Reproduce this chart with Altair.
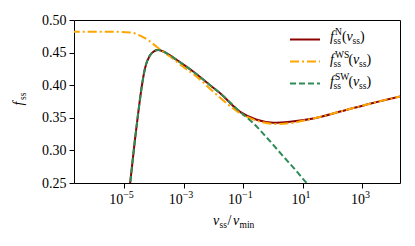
import altair as alt
import pandas as pd

# ---------------- data ----------------
log_v_N = [-4.90, -4.80, -4.64, -4.53, -4.41, -4.30, -4.13, -4.00, -3.86, -3.70, -3.57,
           -3.24, -2.68, -2.11, -1.78, -1.10, -0.54, 0.02, 0.58, 1.36, 2.30, 3.30, 4.30]
f_N = [0.211, 0.250, 0.316, 0.357, 0.398, 0.426, 0.446, 0.452, 0.454, 0.452, 0.449,
       0.439, 0.421, 0.400, 0.388, 0.359, 0.347, 0.3425, 0.344, 0.349, 0.360, 0.372, 0.383]

log_v_WS = [-6.80, -5.50, -4.80, -4.47, -4.13, -3.91, -3.46, -3.01, -2.56, -2.17, -1.78,
            -1.10, -0.43, 0.13, 0.60, 1.36, 2.30, 3.30, 4.30]
f_WS = [0.482, 0.482, 0.481, 0.476, 0.467, 0.459, 0.444, 0.428, 0.413, 0.397, 0.381,
        0.357, 0.344, 0.3405, 0.342, 0.349, 0.360, 0.372, 0.383]

log_v_SW = [-4.90, -4.80, -4.64, -4.53, -4.41, -4.30, -4.13, -4.00, -3.86, -3.70, -3.57,
            -3.24, -2.68, -2.11, -1.78, -1.10, -0.66, -0.21, 0.35, 0.80, 1.08, 1.30]
f_SW = [0.211, 0.250, 0.316, 0.357, 0.398, 0.426, 0.446, 0.452, 0.454, 0.452, 0.449,
        0.439, 0.421, 0.400, 0.388, 0.359, 0.342, 0.320, 0.291, 0.268, 0.253, 0.242]

x_tick_exponents = [-5, -3, -1, 1, 3]
y_ticks = [0.25, 0.30, 0.35, 0.40, 0.45, 0.50]
x_domain_log = [-6.69, 4.28]
y_domain = [0.25, 0.50]

# ---------------- styling ----------------
FONT = "Liberation Serif"
C_N, C_WS, C_SW = "#8b0000", "#ffa500", "#2e8b57"
W, H = 326, 163
OX, OY = 74, 20  # plot origin on the page

xscale = alt.Scale(type="log", domain=[10 ** x_domain_log[0], 10 ** x_domain_log[1]], nice=False)
yscale = alt.Scale(domain=y_domain, nice=False, zero=False)
xaxis = alt.Axis(values=[10.0 ** e for e in x_tick_exponents], labels=False, ticks=True,
                 tickSize=5, tickColor="black", tickWidth=1, domain=False, grid=False, title=None)
yaxis = alt.Axis(values=y_ticks, format=".2f", tickSize=5, tickColor="black", tickWidth=1,
                 domain=False, grid=False, title=None, labelFont=FONT, labelFontSize=14,
                 labelColor="black", labelPadding=3)


def series_df(lv, f):
    return pd.DataFrame({"x": [10.0 ** v for v in lv], "y": f})


def line(df, color, dash=None):
    kw = dict(color=color, strokeWidth=2, clip=True, interpolate="monotone")
    if dash:
        kw["strokeDash"] = dash
    return alt.Chart(df).mark_line(**kw).encode(
        x=alt.X("x:Q", scale=xscale, axis=xaxis),
        y=alt.Y("y:Q", scale=yscale, axis=yaxis),
    )


one = pd.DataFrame({"k": [0]})


def txt(s, x, y, size=14, italic=False, angle=0, align="left"):
    kw = dict(text=s, font=FONT, fontSize=size, align=align, baseline="alphabetic", color="black")
    if italic:
        kw["fontStyle"] = "italic"
    if angle:
        kw["angle"] = angle
    return alt.Chart(one).mark_text(**kw).encode(x=alt.value(x - OX), y=alt.value(y - OY))


def legend_line(x1, x2, y, color, dash=None):
    kw = dict(color=color, strokeWidth=2)
    if dash:
        kw["strokeDash"] = dash
    return alt.Chart(one).mark_rule(**kw).encode(
        x=alt.value(x1 - OX), x2=alt.value(x2 - OX), y=alt.value(y - OY))


layers = [
    line(series_df(log_v_N, f_N), C_N),
    line(series_df(log_v_WS, f_WS), C_WS, [9, 3, 2, 3]),
    line(series_df(log_v_SW, f_SW), C_SW, [6, 3]),
]

# x tick labels: 10^e, placed through the x scale
neg = pd.DataFrame({"x": [10.0 ** e for e in x_tick_exponents if e < 0],
                    "e": ["\u2212" + str(-e) for e in x_tick_exponents if e < 0]})
pos = pd.DataFrame({"x": [10.0 ** e for e in x_tick_exponents if e > 0],
                    "e": [str(e) for e in x_tick_exponents if e > 0]})
for df, shift in ((neg, -1), (pos, 3)):
    layers.append(alt.Chart(df).mark_text(text="10", font=FONT, fontSize=14, align="right",
                                          baseline="alphabetic", dx=shift, color="black").encode(
        x=alt.X("x:Q", scale=xscale, axis=xaxis), y=alt.value(203.5 - OY)))
    layers.append(alt.Chart(df).mark_text(font=FONT, fontSize=10, align="left",
                                          baseline="alphabetic", dx=shift, color="black").encode(
        x=alt.X("x:Q", scale=xscale, axis=xaxis), y=alt.value(198 - OY), text="e:N"))

# x title: v_ss / v_min
layers += [
    txt("v", 213, 225, italic=True),
    txt("ss", 219.5, 228, size=9.5),
    txt("/", 227.5, 225),
    txt("v", 233, 225, italic=True),
    txt("min", 239.5, 228, size=9.5),
]
# y title: f_ss (rotated)
layers += [
    txt("f", 23, 105.5, italic=True, angle=270),
    txt("ss", 26, 100, size=9.5, angle=270),
]

# legend
entries = [
    (41.0, 39.5, C_N, None, "N", 342),
    (63.5, 61.5, C_WS, [9, 3, 2, 3], "WS", 348.5),
    (86.0, 83.5, C_SW, [6, 3], "SW", 348.5),
]
for base, ly, col, dash, sup, px in entries:
    layers += [
        legend_line(290, 320, ly, col, dash),
        txt("f", 330, base, italic=True),
        txt("ss", 333.5, base + 3, size=9.5),
        txt(sup, 335, base - 6, size=9.5),
        txt("(", px, base),
        txt("v", px + 4.5, base, italic=True),
        txt("ss", px + 10.5, base + 3, size=9.5),
        txt(")", px + 18, base),
    ]

chart = alt.layer(*layers).properties(
    width=W, height=H,
    padding={"left": OX - 8, "top": OY - 8, "right": 7, "bottom": 55},
    autosize=alt.AutoSizeParams(type="none"),
).configure_view(stroke="black", strokeWidth=1).configure_axis(labelFont=FONT)

chart.save("out.html", embed_options={"renderer": "svg", "actions": False})
